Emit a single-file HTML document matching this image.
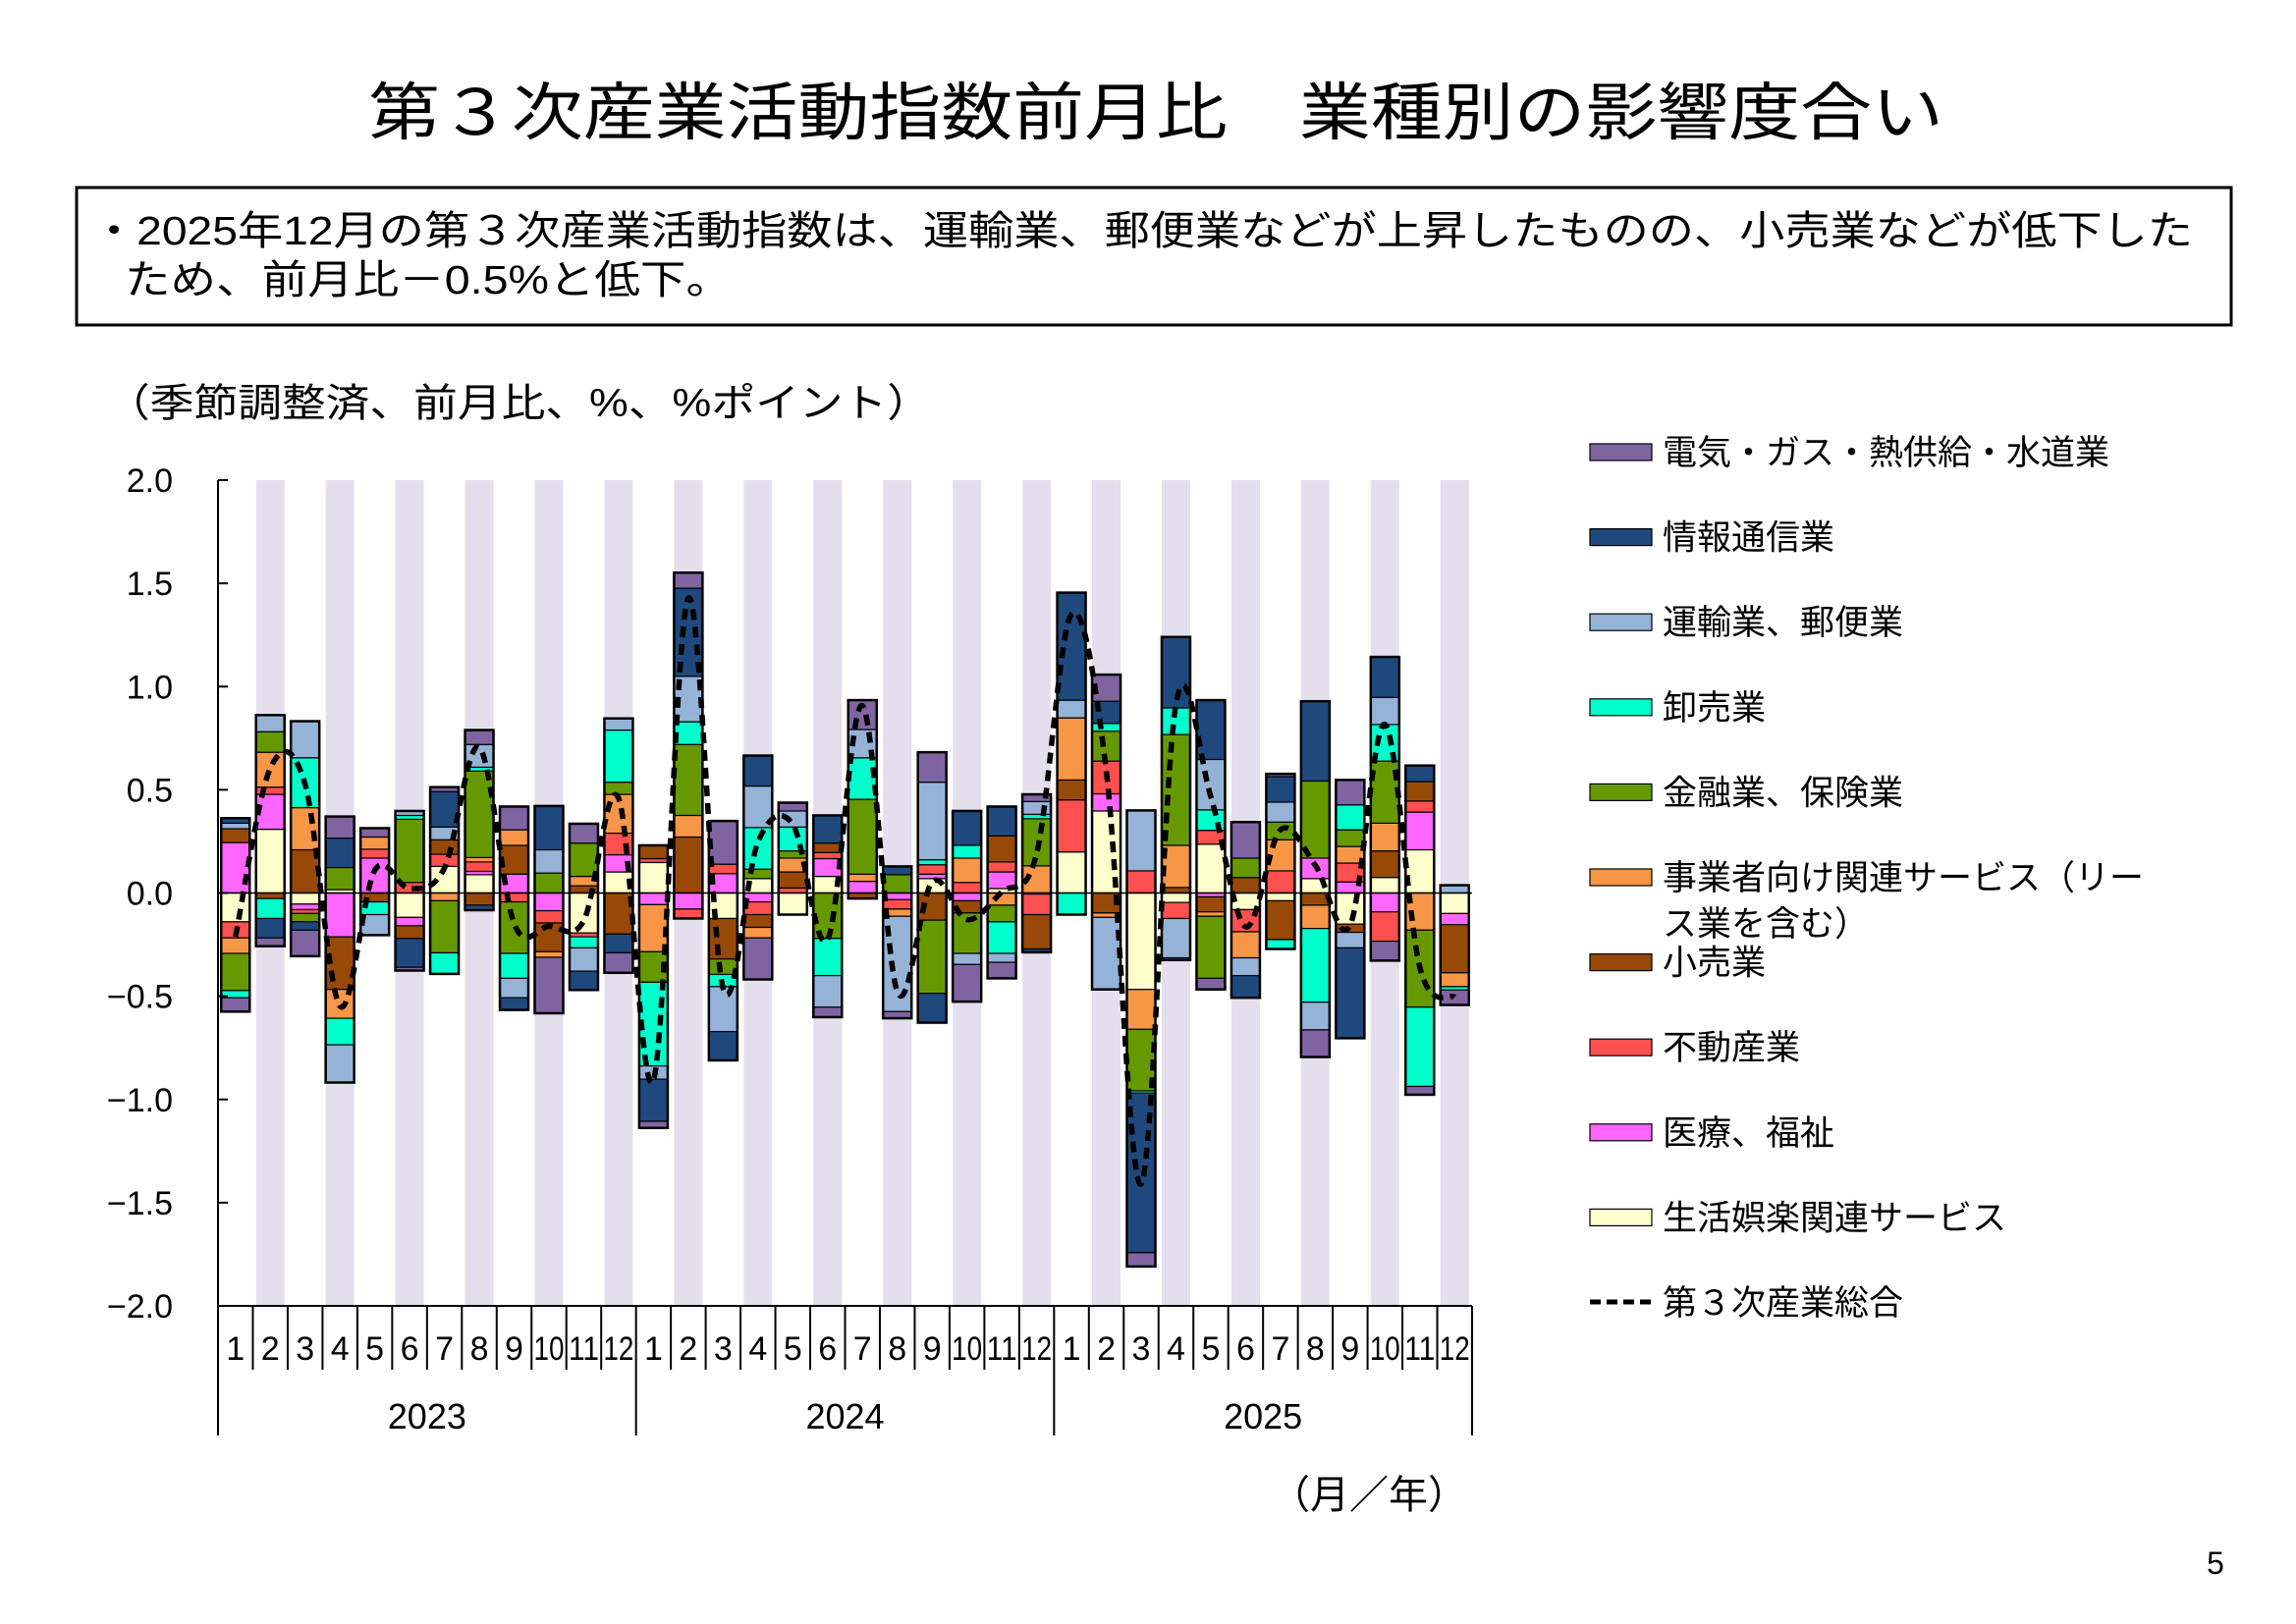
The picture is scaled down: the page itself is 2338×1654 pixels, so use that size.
<!DOCTYPE html>
<html><head><meta charset="utf-8"><style>
body{margin:0;background:#fff;}
svg{display:block;font-family:"Liberation Sans","Noto Sans CJK JP",sans-serif;}
</style></head><body>
<svg id="s" width="2338" height="1654" viewBox="0 0 2338 1654" xmlns="http://www.w3.org/2000/svg">
<rect width="2338" height="1654" fill="#fff"/>
<text x="375" y="137" font-size="64" textLength="1604" lengthAdjust="spacingAndGlyphs" fill="#000">第３次産業活動指数前月比　業種別の影響度合い</text>
<rect x="78" y="191" width="2194" height="140" fill="none" stroke="#000" stroke-width="3"/>
<text x="93" y="249" font-size="41" textLength="2140" lengthAdjust="spacingAndGlyphs" fill="#000">・2025年12月の第３次産業活動指数は、運輸業、郵便業などが上昇したものの、小売業などが低下した</text>
<text x="127" y="299" font-size="41" textLength="618" lengthAdjust="spacingAndGlyphs" fill="#000">ため、前月比－0.5%と低下。</text>
<text x="108" y="424" font-size="40" textLength="840" lengthAdjust="spacingAndGlyphs" fill="#000">（季節調整済、前月比、%、%ポイント）</text>
<g id="plot"></g>
<text x="1394" y="1536" font-size="40" text-anchor="middle" fill="#000">（月／年）</text>
<text x="2256" y="1603" font-size="32" text-anchor="middle" fill="#000">5</text>
</svg>
<script>
const C={P:'#8064a2',N:'#1f497d',L:'#95b3d7',C:'#00ffcc',G:'#669900',O:'#f79646',B:'#984807',R:'#ff5050',K:'#ff66ff',Y:'#ffffcc'};
const D=[
"K776685 B685660 L660650 N650641 Y776828 R828857 O857885 G885952 C952965 P965990",
"Y776661 K661598 R598585 O585522 G522485 L485455 B776786 C786822 N822857 P857872",
"B776698 O698622 C622532 L532466 Y776796 K796806 R806813 G813828 N828843 P843890",
"Y776770 G770730 N730677 P677638 K776855 B855950 O9501002 C10021050 L10501118",
"K776713 R713697 O697675 P675659 B776792 C792815 L815852",
"R776757 G757643 C643636 L636628 Y776820 K820835 B835858 N858910 P910916",
"Y776728 R728706 B706680 L680657 N657593 P593585 O776790 G790884 C884922",
"Y776743 K743737 R737720 O720712 G712556 C556549 L549508 P508482 B776798 N798807",
"K776742 B742690 O690662 P662620 R776792 G792885 C885930 L930965 N965987",
"G776740 L740698 N698619 K776808 R808830 B830882 O882892 P892993",
"B776763 O763746 G746686 P686651 Y776848 R848855 C855875 L875917 N917951",
"Y776738 K738707 R707668 O668598 G598576 C576482 L482461 B776850 N850884 P884920",
"Y776721 R721714 B714690 K776797 O797882 G882937 C9371088 L10881112 N11121188 P11881200",
"B776675 O675636 G636508 C508467 L467385 N385226 P226198 K776805 R805822",
"K776741 R741724 P724646 Y776822 B822895 G895923 C923945 L9451026 N10261078",
"Y776750 G750733 C733658 L658583 N583528 K776792 R792815 B815838 O838857 P857932",
"R776767 B767738 O738713 G713700 C700657 L657628 P628613 Y776815",
"Y776746 K746714 R714703 B703686 N686636 G776858 C858925 L925982 P9821000",
"K776755 O755742 G742607 C607532 L532481 P481428 B776786",
"G776743 N743728 K776788 R788805 O805818 L818990 P9901002",
"Y776750 K750742 R742725 C725716 L716576 P576522 B776825 G825957 N9571010",
"R776757 O757713 C713690 N690628 K776790 B790812 G812885 L885905 P905972",
"Y776768 K768738 R738720 B720673 N673620 O776798 G798828 C828885 L885901 P901930",
"O776727 G727642 C642634 L634611 P611598 K776778 R778815 B815877 N877883",
"Y776702 R702608 B608572 O572460 L460428 N428234 C776815",
"Y776628 K628597 R597538 G538484 C484470 N470430 P430382 B776812 O812820 L820950",
"R776736 L736627 Y776950 O9501022 G10221133 C11331137 N11371425 P14251450",
"B776766 O766690 G690490 C490442 N442314 Y776793 R793822 L822893 P893897",
"Y776688 R688663 C663626 L626535 N535428 K776783 B783810 O810818 G818930 P930950",
"B776748 G748713 P713648 Y776806 R806846 O846893 L893925 N925965",
"R776736 O736680 G680648 L648612 N612566 P566561 Y776790 B790860 C860877",
"Y776750 K750713 G713574 N574430 B776798 O798840 C840973 L9731023 P10231072",
"K776756 R756722 O722692 G692662 C662617 P617572 Y776832 B832847 L847875 N8751038",
"Y776748 B748700 O700650 G650538 C538472 L472423 N423350 K776810 R810863 P863898",
"Y776698 K698630 R630610 B610575 N575546 O776843 G843982 C9821125 P11251140",
"L776762 Y776813 K813833 B833920 O920945 C945951 P951978"];
const X0=222,X1=1499,YT=489,YB=1330,n=36,sw=(X1-X0)/n;
const zy=z=>489+(z-31)*841/1490;
const y0=zy(776);
let h='';
for(let i=1;i<n;i+=2){const cx=X0+sw*(i+.5);h+=`<rect x="${cx-14.5}" y="${YT}" width="29" height="${YB-YT}" fill="#e4dfec"/>`;}
const tot=[];
D.forEach((s,i)=>{const cx=X0+sw*(i+.5);let mn=776,mx=776;
 s.split(' ').forEach(t=>{const k=t[0],nums=t.slice(1);
  let a,b;
  if(nums.length==6){a=+nums.slice(0,3);b=+nums.slice(3);}
  else if(nums.length==8){a=+nums.slice(0,4);b=+nums.slice(4);}
  else {a=+nums.slice(0,3);b=+nums.slice(3);}
  const ya=zy(Math.min(a,b)),yb=zy(Math.max(a,b));
  mn=Math.min(mn,a,b);mx=Math.max(mx,a,b);
  h+=`<rect x="${cx-14.5}" y="${ya}" width="29" height="${yb-ya}" fill="${C[k]}" stroke="#000" stroke-width="1.2"/>`;});
 h+=`<rect x="${cx-14.5}" y="${zy(mn)}" width="29" height="${zy(mx)-zy(mn)}" fill="none" stroke="#000" stroke-width="2.5"/>`;
 tot.push([cx,zy(mn)+zy(mx)-y0]);
});
h+=`<line x1="${X0}" y1="${y0}" x2="${X1}" y2="${y0}" stroke="#000" stroke-width="1.5"/>`;
let d=`M${tot[0][0]},${tot[0][1]}`;
for(let i=0;i<tot.length-1;i++){const p0=tot[Math.max(0,i-1)],p1=tot[i],p2=tot[i+1],p3=tot[Math.min(tot.length-1,i+2)];
 const c1=[p1[0]+(p2[0]-p0[0])/6,p1[1]+(p2[1]-p0[1])/6],c2=[p2[0]-(p3[0]-p1[0])/6,p2[1]-(p3[1]-p1[1])/6];
 d+=` C${c1[0]},${c1[1]} ${c2[0]},${c2[1]} ${p2[0]},${p2[1]}`;}
h+=`<path d="${d}" fill="none" stroke="#000" stroke-width="5.5" stroke-dasharray="11 7"/>`;
h+=`<line x1="${X0}" y1="${YT}" x2="${X0}" y2="${YB}" stroke="#000" stroke-width="2"/>`;
h+=`<line x1="${X0}" y1="${YB}" x2="${X1}" y2="${YB}" stroke="#000" stroke-width="2"/>`;
['2.0','1.5','1.0','0.5','0.0','-0.5','-1.0','-1.5','-2.0'].forEach((t,j)=>{const y=YT+j*(YB-YT)/8;
 h+=`<line x1="${X0}" y1="${y}" x2="${X0+10}" y2="${y}" stroke="#000" stroke-width="2"/>`;
 h+=`<text x="176" y="${y+12}" font-size="34" text-anchor="end">${t.replace('-','−')}</text>`;});
for(let i=0;i<=n;i++){const x=X0+sw*i;const yr=(i%12==0);
 h+=`<line x1="${x}" y1="${YB}" x2="${x}" y2="${yr?1462:1395}" stroke="#000" stroke-width="2"/>`;}
for(let i=0;i<n;i++){const x=X0+sw*(i+.5),m=i%12+1;
 h+=`<text x="${x}" y="${1385}" font-size="34" text-anchor="middle" ${m>=10?'textLength="31" lengthAdjust="spacingAndGlyphs"':''}>${m}</text>`;}
['2023','2024','2025'].forEach((t,j)=>{h+=`<text x="${X0+sw*(12*j+6)}" y="${1455}" font-size="36" text-anchor="middle">${t}</text>`;});
const L=[['P','電気・ガス・熱供給・水道業'],['N','情報通信業'],['L','運輸業、郵便業'],['C','卸売業'],['G','金融業、保険業'],['O','事業者向け関連サービス（リー'],['B','小売業'],['R','不動産業'],['K','医療、福祉'],['Y','生活娯楽関連サービス']];
L.forEach((l,i)=>{const y=460+86.6*i;
 h+=`<rect x="1619" y="${y-8}" width="63" height="17" fill="${C[l[0]]}" stroke="#000" stroke-width="1.2"/>`;
 h+=`<text x="1693" y="${y+13}" font-size="35">${l[1]}</text>`;});
h+=`<text x="1693" y="${953}" font-size="35">ス業を含む）</text>`;
h+=`<line x1="1619" y1="1326" x2="1682" y2="1326" stroke="#000" stroke-width="5" stroke-dasharray="11 6"/>`;
h+=`<text x="1693" y="1339" font-size="35">第３次産業総合</text>`;
document.getElementById('plot').innerHTML=h;
</script>
</body></html>
